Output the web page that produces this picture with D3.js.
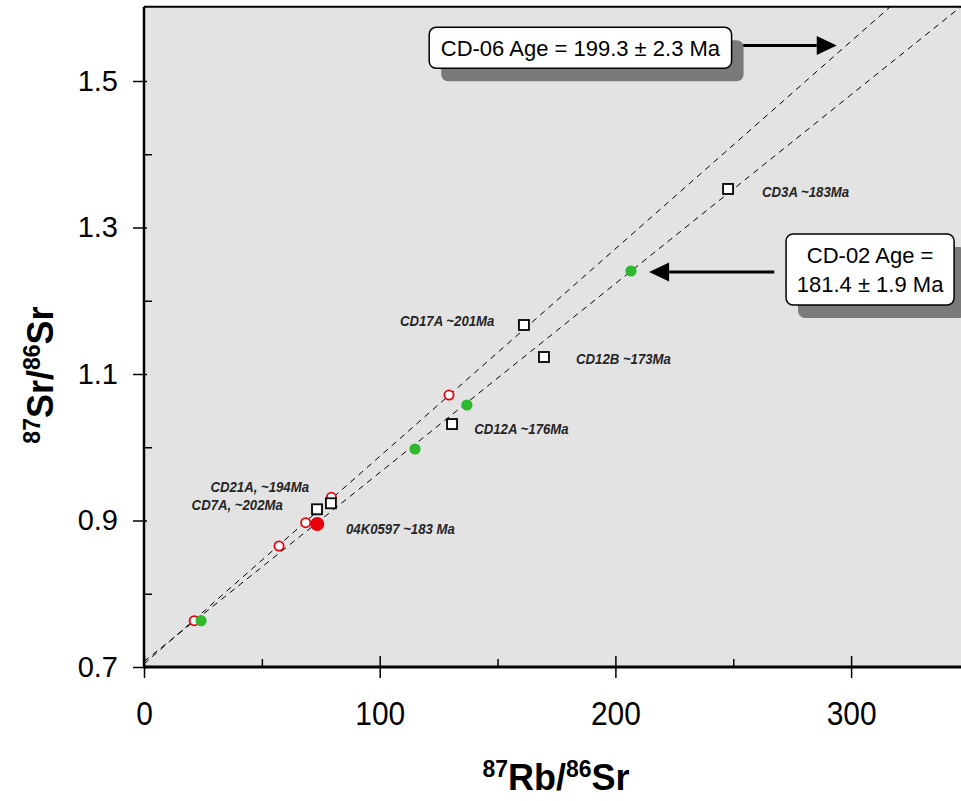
<!DOCTYPE html>
<html>
<head>
<meta charset="utf-8">
<script src="https://cdn.jsdelivr.net/npm/d3@7"></script>
<style>
  html, body { margin: 0; padding: 0; background: #ffffff; }
  svg { display: block; }
  text { font-family: Arial, "Liberation Sans", Helvetica, sans-serif; }
</style>
</head>
<body>
<svg id="chart" width="961" height="801"></svg>
<script>
// ---- Rb-Sr isotope data ----
// open red circles
const redOpenRb = [21.3, 57.3, 68.6, 79.5, 129.4];
const redOpenSr = [0.7632, 0.8652, 0.8970, 0.9317, 1.0713];
// filled green circles (CD-02)
const greenRb = [24.2, 115.0, 137.0, 206.6];
const greenSr = [0.7632, 0.9976, 1.0577, 1.2406];
// filled red circle (04K0597)
const redFilledRb = [73.5];
const redFilledSr = [0.8952];
// open squares
const squareRb = [73.4, 79.3, 130.7, 161.2, 169.7, 247.8];
const squareSr = [0.9153, 0.9235, 1.0317, 1.1669, 1.1232, 1.3526];

// sample annotations
const sampleLabels = ["CD21A, ~194Ma", "CD7A, ~202Ma", "04K0597 ~183 Ma", "CD17A ~201Ma",
                      "CD12B ~173Ma", "CD12A ~176Ma", "CD3A ~183Ma"];

// isochrons
const isoNames = ["CD-06", "CD-02"];
const isoAges = [199.3, 181.4];     // Ma
const isoErrors = [2.3, 1.9];       // Ma
const isoInitial = [0.7041, 0.7075];
const lambdaRb = 1.42e-11;          // decay constant, 1/yr

// axis ticks
const xTicks = [0, 100, 200, 300];
const xMinor = [50, 150, 250];
const yTicks = [0.7, 0.9, 1.1, 1.3, 1.5];
const yMinor = [0.8, 1.0, 1.2, 1.4];

// ---- layout ----
const svg = d3.select("#chart");
const left = 144, bottom = 667;
const x = d3.scaleLinear().domain([0, 350]).range([left, left + 350 * 2.357]);
const y = d3.scaleLinear().domain([0.7, 1.6]).range([bottom, bottom - 0.9 * 732.5]);
const plotRight = 961, plotTop = y(1.6) - 1;

svg.append("rect").attr("x", left).attr("y", plotTop)
  .attr("width", plotRight - left).attr("height", bottom - plotTop)
  .attr("fill", "#e3e3e3");

svg.append("defs").append("clipPath").attr("id", "plotClip")
  .append("rect").attr("x", left).attr("y", plotTop)
  .attr("width", plotRight - left).attr("height", bottom - plotTop);

// isochron lines
const isochrons = isoAges.map((age, i) => ({
  slope: Math.expm1(lambdaRb * age * 1e6),
  b: isoInitial[i]
}));
const lineGen = d3.line().x(d => x(d[0])).y(d => y(d[1]));
svg.append("g").attr("clip-path", "url(#plotClip)")
  .selectAll("path").data(isochrons).join("path")
  .attr("d", d => lineGen([[0, d.b], [360, d.b + d.slope * 360]]))
  .attr("fill", "none").attr("stroke", "#000").attr("stroke-width", 1)
  .attr("stroke-dasharray", "6,5");

// markers
const zip = (a, b) => a.map((v, i) => [v, b[i]]);
const g = svg.append("g");
g.selectAll(".ro").data(zip(redOpenRb, redOpenSr)).join("circle")
  .attr("cx", d => x(d[0])).attr("cy", d => y(d[1])).attr("r", 4.6)
  .attr("fill", "#fff").attr("stroke", "#e8000b").attr("stroke-width", 1.8);
g.selectAll(".gr").data(zip(greenRb, greenSr)).join("circle")
  .attr("cx", d => x(d[0])).attr("cy", d => y(d[1])).attr("r", 5.6)
  .attr("fill", "#2db82d");
g.selectAll(".rf").data(zip(redFilledRb, redFilledSr)).join("circle")
  .attr("cx", d => x(d[0])).attr("cy", d => y(d[1])).attr("r", 7)
  .attr("fill", "#e8000b");
const sq = 10;
g.selectAll(".sq").data(zip(squareRb, squareSr)).join("rect")
  .attr("x", d => x(d[0]) - sq / 2).attr("y", d => y(d[1]) - sq / 2)
  .attr("width", sq).attr("height", sq)
  .attr("fill", "#fff").attr("stroke", "#000").attr("stroke-width", 1.8);

// sample labels (left edge, baseline) in data units; set in a condensed italic
const labelPos = [[28.2, 0.9393], [20.2, 0.9143], [85.7, 0.8816], [108.6, 1.1655],
                  [183.3, 1.1132], [140.1, 1.0177], [262.2, 1.3416]];
svg.append("g").selectAll("text").data(sampleLabels).join("text")
  .attr("transform", (d, i) => `translate(${x(labelPos[i][0])},${y(labelPos[i][1])}) scale(0.88,1)`)
  .attr("font-size", 15).attr("font-style", "italic").attr("font-weight", "bold")
  .attr("fill", "#262626").text(d => d);

// axes
const xAxis = svg.append("g").attr("transform", `translate(0,${bottom})`)
  .call(d3.axisBottom(x).tickValues(xTicks).tickSize(11).tickPadding(23).tickFormat(d3.format("d")));
xAxis.select(".domain").remove();
xAxis.selectAll(".tick line").attr("y1", -11).attr("stroke-width", 1.5);
xAxis.selectAll(".tick text").attr("font-size", 34).attr("fill", "#000")
  .attr("transform", "scale(0.88,1)");
svg.append("g").attr("transform", `translate(0,${bottom})`)
  .call(d3.axisTop(x).tickValues(xMinor).tickSize(8).tickFormat(""))
  .call(a => a.select(".domain").remove())
  .selectAll(".tick line").attr("stroke-width", 1.5);

const yAxis = svg.append("g").attr("transform", `translate(${left},0)`)
  .call(d3.axisLeft(y).tickValues(yTicks).tickSize(11).tickPadding(15).tickFormat(d3.format(".1f")));
yAxis.select(".domain").remove();
yAxis.selectAll(".tick line").attr("x2", 3).attr("x1", -11).attr("stroke-width", 1.5);
yAxis.selectAll(".tick text").attr("font-size", 29).attr("fill", "#000")
  .attr("font-family", "Arial, 'Liberation Sans', sans-serif");
svg.append("g").attr("transform", `translate(${left},0)`)
  .call(d3.axisRight(y).tickValues(yMinor).tickSize(8).tickFormat(""))
  .call(a => a.select(".domain").remove())
  .selectAll(".tick line").attr("stroke-width", 1.5);

// frame lines
svg.append("line").attr("x1", left).attr("x2", plotRight).attr("y1", bottom).attr("y2", bottom)
  .attr("stroke", "#000").attr("stroke-width", 3);
svg.append("line").attr("x1", left).attr("x2", left).attr("y1", plotTop).attr("y2", bottom + 1.5)
  .attr("stroke", "#000").attr("stroke-width", 2.5);
svg.append("line").attr("x1", left).attr("x2", plotRight).attr("y1", plotTop).attr("y2", plotTop)
  .attr("stroke", "#000").attr("stroke-width", 2);

// axis titles
const xt = svg.append("text").attr("x", 556).attr("y", 790)
  .attr("text-anchor", "middle").attr("font-weight", "bold").attr("font-size", 36);
xt.append("tspan").attr("font-size", 23).attr("dy", -13).text("87");
xt.append("tspan").attr("dy", 13).text("Rb/");
xt.append("tspan").attr("font-size", 23).attr("dy", -13).text("86");
xt.append("tspan").attr("dy", 13).text("Sr");

const yt = svg.append("text")
  .attr("transform", "translate(53,375) rotate(-90)")
  .attr("text-anchor", "middle").attr("font-weight", "bold").attr("font-size", 36);
yt.append("tspan").attr("font-size", 23).attr("dy", -13).text("87");
yt.append("tspan").attr("dy", 13).text("Sr/");
yt.append("tspan").attr("font-size", 23).attr("dy", -13).text("86");
yt.append("tspan").attr("dy", 13).text("Sr");

// age call-outs
function arrow(x1, x2, yy) {
  const dir = Math.sign(x2 - x1), head = 20, half = 9.5;
  svg.append("line").attr("x1", x1).attr("x2", x2 - dir * head).attr("y1", yy).attr("y2", yy)
    .attr("stroke", "#000").attr("stroke-width", 3);
  svg.append("path")
    .attr("d", `M${x2},${yy} L${x2 - dir * head},${yy - half} L${x2 - dir * head},${yy + half} Z`)
    .attr("fill", "#000");
}
function callout(bx, by, bw, bh, lines, fs, lineGap) {
  svg.append("rect").attr("x", bx + 12).attr("y", by + 13).attr("width", bw).attr("height", bh)
    .attr("rx", 7).attr("fill", "#7a7a7a");
  svg.append("rect").attr("x", bx).attr("y", by).attr("width", bw).attr("height", bh)
    .attr("rx", 7).attr("fill", "#fff").attr("stroke", "#000").attr("stroke-width", 1.5);
  const t = svg.append("text").attr("text-anchor", "middle").attr("font-size", fs).attr("fill", "#000");
  const y0 = by + bh / 2 - (lines.length - 1) * lineGap / 2 + fs * 0.36;
  lines.forEach((s, i) => t.append("tspan").attr("x", bx + bw / 2).attr("y", y0 + i * lineGap).text(s));
}
const fmt = d3.format(".1f");
const ageText = i => `${fmt(isoAges[i])} ± ${fmt(isoErrors[i])} Ma`;

// CD-06 (upper isochron)
arrow(x(249.3), x(293.9), y(1.5485));
callout(x(121.0), y(1.5733), x(249.3) - x(121.0), y(1.5173) - y(1.5733),
        [`${isoNames[0]} Age = ${ageText(0)}`], 22, 0);
// CD-02 (lower isochron)
arrow(x(267.4), x(214.3), y(1.2393));
callout(x(272.4), y(1.2911), x(343.7) - x(272.4), y(1.1942) - y(1.2911),
        [`${isoNames[1]} Age =`, ageText(1)], 22, 29);
</script>
</body>
</html>
